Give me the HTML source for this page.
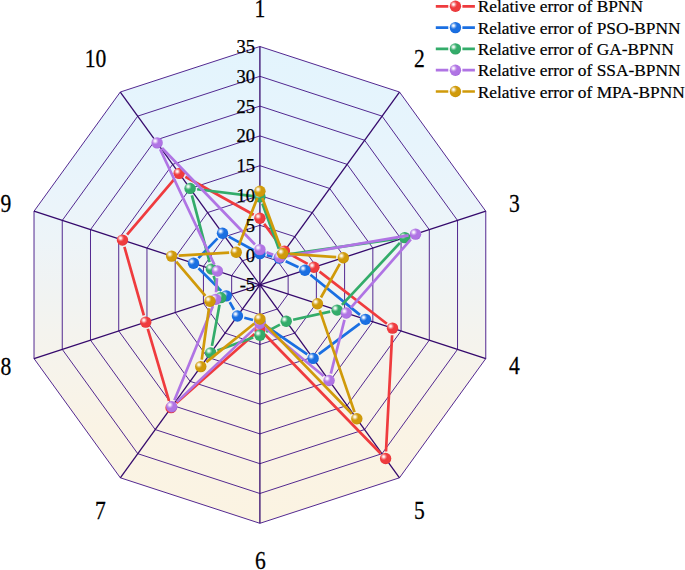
<!DOCTYPE html>
<html><head><meta charset="utf-8"><style>
html,body{margin:0;padding:0;background:#fff;}
body{width:685px;height:570px;overflow:hidden;}
svg{display:block;}
text{font-family:"Liberation Serif",serif;fill:#000;}
</style></head><body>
<svg width="685" height="570" viewBox="0 0 685 570">
<defs>
<linearGradient id="bg" x1="0" y1="46.5" x2="0" y2="523.3" gradientUnits="userSpaceOnUse">
<stop offset="0" stop-color="#e3f4fd"/><stop offset="0.2" stop-color="#e7f4fc"/><stop offset="0.3" stop-color="#eaf4fb"/><stop offset="0.4" stop-color="#edf4f8"/><stop offset="0.5" stop-color="#f0f3f3"/><stop offset="0.6" stop-color="#f4f3ee"/><stop offset="0.7" stop-color="#f7f3ea"/><stop offset="0.8" stop-color="#faf3e5"/><stop offset="1" stop-color="#fbf3e2"/>
</linearGradient>
<radialGradient id="hl" cx="0.5" cy="0.5" r="0.5"><stop offset="0" stop-color="#fff" stop-opacity="1"/><stop offset="0.3" stop-color="#fff" stop-opacity="0.8"/><stop offset="0.65" stop-color="#fff" stop-opacity="0.3"/><stop offset="1" stop-color="#fff" stop-opacity="0"/></radialGradient>

<radialGradient id="gBPNN" cx="0.42" cy="0.40" r="0.62"><stop offset="0" stop-color="#ef3b3e"/><stop offset="0.8" stop-color="#ef3b3e"/><stop offset="1" stop-color="#e03034"/></radialGradient>
<radialGradient id="gPSO" cx="0.42" cy="0.40" r="0.62"><stop offset="0" stop-color="#1a6fe2"/><stop offset="0.8" stop-color="#1a6fe2"/><stop offset="1" stop-color="#1563d4"/></radialGradient>
<radialGradient id="gGA" cx="0.42" cy="0.40" r="0.62"><stop offset="0" stop-color="#33ac6a"/><stop offset="0.8" stop-color="#33ac6a"/><stop offset="1" stop-color="#2a9a5c"/></radialGradient>
<radialGradient id="gSSA" cx="0.42" cy="0.40" r="0.62"><stop offset="0" stop-color="#b074e4"/><stop offset="0.8" stop-color="#b074e4"/><stop offset="1" stop-color="#a064d8"/></radialGradient>
<radialGradient id="gMPA" cx="0.42" cy="0.40" r="0.62"><stop offset="0" stop-color="#d09a0a"/><stop offset="0.8" stop-color="#d09a0a"/><stop offset="1" stop-color="#c08c06"/></radialGradient>
</defs>
<polygon points="259.90,46.50 399.50,92.03 485.78,211.23 485.78,358.57 399.50,477.77 259.90,523.30 120.30,477.77 34.02,358.57 34.02,211.23 120.30,92.03" fill="url(#bg)"/>
<polygon points="259.90,255.10 277.35,260.79 288.13,275.69 288.13,294.11 277.35,309.01 259.90,314.70 242.45,309.01 231.67,294.11 231.67,275.69 242.45,260.79" fill="none" stroke="#4a1c8a" stroke-width="0.95"/>
<polygon points="259.90,225.30 294.80,236.68 316.37,266.48 316.37,303.32 294.80,333.12 259.90,344.50 225.00,333.12 203.43,303.32 203.43,266.48 225.00,236.68" fill="none" stroke="#4a1c8a" stroke-width="0.95"/>
<polygon points="259.90,195.50 312.25,212.57 344.60,257.27 344.60,312.53 312.25,357.23 259.90,374.30 207.55,357.23 175.20,312.53 175.20,257.27 207.55,212.57" fill="none" stroke="#4a1c8a" stroke-width="0.95"/>
<polygon points="259.90,165.70 329.70,188.47 372.84,248.07 372.84,321.73 329.70,381.33 259.90,404.10 190.10,381.33 146.96,321.73 146.96,248.07 190.10,188.47" fill="none" stroke="#4a1c8a" stroke-width="0.95"/>
<polygon points="259.90,135.90 347.15,164.36 401.07,238.86 401.07,330.94 347.15,405.44 259.90,433.90 172.65,405.44 118.73,330.94 118.73,238.86 172.65,164.36" fill="none" stroke="#4a1c8a" stroke-width="0.95"/>
<polygon points="259.90,106.10 364.60,140.25 429.31,229.65 429.31,340.15 364.60,429.55 259.90,463.70 155.20,429.55 90.49,340.15 90.49,229.65 155.20,140.25" fill="none" stroke="#4a1c8a" stroke-width="0.95"/>
<polygon points="259.90,76.30 382.05,116.14 457.54,220.44 457.54,349.36 382.05,453.66 259.90,493.50 137.75,453.66 62.26,349.36 62.26,220.44 137.75,116.14" fill="none" stroke="#4a1c8a" stroke-width="0.95"/>
<polygon points="259.90,46.50 399.50,92.03 485.78,211.23 485.78,358.57 399.50,477.77 259.90,523.30 120.30,477.77 34.02,358.57 34.02,211.23 120.30,92.03" fill="none" stroke="#4a1c8a" stroke-width="0.95"/>
<line x1="259.9" y1="284.9" x2="259.90" y2="46.50" stroke="#35096c" stroke-width="1.3"/>
<line x1="259.9" y1="284.9" x2="399.50" y2="92.03" stroke="#35096c" stroke-width="1.3"/>
<line x1="259.9" y1="284.9" x2="485.78" y2="211.23" stroke="#35096c" stroke-width="1.3"/>
<line x1="259.9" y1="284.9" x2="485.78" y2="358.57" stroke="#35096c" stroke-width="1.3"/>
<line x1="259.9" y1="284.9" x2="399.50" y2="477.77" stroke="#35096c" stroke-width="1.3"/>
<line x1="259.9" y1="284.9" x2="259.90" y2="523.30" stroke="#35096c" stroke-width="1.3"/>
<line x1="259.9" y1="284.9" x2="120.30" y2="477.77" stroke="#35096c" stroke-width="1.3"/>
<line x1="259.9" y1="284.9" x2="34.02" y2="358.57" stroke="#35096c" stroke-width="1.3"/>
<line x1="259.9" y1="284.9" x2="34.02" y2="211.23" stroke="#35096c" stroke-width="1.3"/>
<line x1="259.9" y1="284.9" x2="120.30" y2="92.03" stroke="#35096c" stroke-width="1.3"/>
<path d="M264.14,223.90L280.14,245.39M290.60,254.50L307.67,263.87M319.51,271.64L386.87,323.80M392.11,335.23L385.97,451.47M380.64,453.47L264.85,334.49M254.57,334.09L176.36,402.98M169.03,400.86L147.79,328.93M143.84,315.29L124.41,246.91M127.07,234.67L174.57,178.76M185.37,176.80L253.69,214.75" fill="none" stroke="#ef3b3e" stroke-width="2.7"/>
<circle cx="259.90" cy="218.20" r="5.7" fill="url(#gBPNN)"/><circle cx="258.00" cy="216.30" r="3.6" fill="url(#hl)"/>
<circle cx="284.38" cy="251.08" r="5.7" fill="url(#gBPNN)"/><circle cx="282.48" cy="249.18" r="3.6" fill="url(#hl)"/>
<circle cx="313.90" cy="267.29" r="5.7" fill="url(#gBPNN)"/><circle cx="312.00" cy="265.39" r="3.6" fill="url(#hl)"/>
<circle cx="392.49" cy="328.14" r="5.7" fill="url(#gBPNN)"/><circle cx="390.59" cy="326.24" r="3.6" fill="url(#hl)"/>
<circle cx="385.59" cy="458.56" r="5.7" fill="url(#gBPNN)"/><circle cx="383.69" cy="456.66" r="3.6" fill="url(#hl)"/>
<circle cx="259.90" cy="329.40" r="5.7" fill="url(#gBPNN)"/><circle cx="258.00" cy="327.50" r="3.6" fill="url(#hl)"/>
<circle cx="171.04" cy="407.67" r="5.7" fill="url(#gBPNN)"/><circle cx="169.14" cy="405.77" r="3.6" fill="url(#hl)"/>
<circle cx="145.78" cy="322.12" r="5.7" fill="url(#gBPNN)"/><circle cx="143.88" cy="320.22" r="3.6" fill="url(#hl)"/>
<circle cx="122.47" cy="240.08" r="5.7" fill="url(#gBPNN)"/><circle cx="120.57" cy="238.18" r="3.6" fill="url(#hl)"/>
<circle cx="179.16" cy="173.35" r="5.7" fill="url(#gBPNN)"/><circle cx="177.26" cy="171.45" r="3.6" fill="url(#hl)"/>
<path d="M266.81,255.23L272.34,256.53M285.68,261.18L298.48,267.20M310.42,274.69L359.97,314.87M359.79,323.58L318.78,354.14M307.24,354.36L265.75,325.82M253.03,320.01L244.30,317.74M233.99,309.73L229.76,302.07M221.28,290.85L198.52,268.24M198.42,258.13L217.55,238.32M228.72,236.61L253.67,250.20" fill="none" stroke="#1a6fe2" stroke-width="2.7"/>
<circle cx="259.90" cy="253.60" r="5.7" fill="url(#gPSO)"/><circle cx="258.00" cy="251.70" r="3.6" fill="url(#hl)"/>
<circle cx="279.25" cy="258.16" r="5.7" fill="url(#gPSO)"/><circle cx="277.35" cy="256.26" r="3.6" fill="url(#hl)"/>
<circle cx="304.91" cy="270.22" r="5.7" fill="url(#gPSO)"/><circle cx="303.01" cy="268.32" r="3.6" fill="url(#hl)"/>
<circle cx="365.49" cy="319.34" r="5.7" fill="url(#gPSO)"/><circle cx="363.59" cy="317.44" r="3.6" fill="url(#hl)"/>
<circle cx="313.09" cy="358.38" r="5.7" fill="url(#gPSO)"/><circle cx="311.19" cy="356.48" r="3.6" fill="url(#hl)"/>
<circle cx="259.90" cy="321.80" r="5.7" fill="url(#gPSO)"/><circle cx="258.00" cy="319.90" r="3.6" fill="url(#hl)"/>
<circle cx="237.43" cy="315.95" r="5.7" fill="url(#gPSO)"/><circle cx="235.53" cy="314.05" r="3.6" fill="url(#hl)"/>
<circle cx="226.32" cy="295.85" r="5.7" fill="url(#gPSO)"/><circle cx="224.42" cy="293.95" r="3.6" fill="url(#hl)"/>
<circle cx="193.49" cy="263.24" r="5.7" fill="url(#gPSO)"/><circle cx="191.59" cy="261.34" r="3.6" fill="url(#hl)"/>
<circle cx="222.49" cy="233.21" r="5.7" fill="url(#gPSO)"/><circle cx="220.59" cy="231.31" r="3.6" fill="url(#hl)"/>
<path d="M262.34,203.57L278.83,248.71M288.30,254.37L397.75,238.66M399.93,242.84L341.95,304.89M330.17,311.60L293.14,319.73M279.94,324.57L266.17,331.87M253.22,337.60L217.39,350.46M211.98,345.88L219.52,304.64M218.57,290.91L213.62,275.83M209.59,262.22L191.88,195.29M197.12,189.28L252.85,196.04" fill="none" stroke="#33ac6a" stroke-width="2.7"/>
<circle cx="259.90" cy="196.90" r="5.7" fill="url(#gGA)"/><circle cx="258.00" cy="195.00" r="3.6" fill="url(#hl)"/>
<circle cx="281.27" cy="255.38" r="5.7" fill="url(#gGA)"/><circle cx="279.37" cy="253.48" r="3.6" fill="url(#hl)"/>
<circle cx="404.78" cy="237.65" r="5.7" fill="url(#gGA)"/><circle cx="402.88" cy="235.75" r="3.6" fill="url(#hl)"/>
<circle cx="337.10" cy="310.08" r="5.7" fill="url(#gGA)"/><circle cx="335.20" cy="308.18" r="3.6" fill="url(#hl)"/>
<circle cx="286.21" cy="321.25" r="5.7" fill="url(#gGA)"/><circle cx="284.31" cy="319.35" r="3.6" fill="url(#hl)"/>
<circle cx="259.90" cy="335.20" r="5.7" fill="url(#gGA)"/><circle cx="258.00" cy="333.30" r="3.6" fill="url(#hl)"/>
<circle cx="210.71" cy="352.86" r="5.7" fill="url(#gGA)"/><circle cx="208.81" cy="350.96" r="3.6" fill="url(#hl)"/>
<circle cx="220.79" cy="297.66" r="5.7" fill="url(#gGA)"/><circle cx="218.89" cy="295.76" r="3.6" fill="url(#hl)"/>
<circle cx="211.40" cy="269.08" r="5.7" fill="url(#gGA)"/><circle cx="209.50" cy="267.18" r="3.6" fill="url(#hl)"/>
<circle cx="190.07" cy="188.42" r="5.7" fill="url(#gGA)"/><circle cx="188.17" cy="186.52" r="3.6" fill="url(#hl)"/>
<path d="M266.52,252.17L273.23,254.77M286.85,256.14L408.55,235.33M410.86,239.47L350.93,307.73M344.49,319.94L330.82,373.57M323.58,375.94L265.38,328.01M254.74,328.37L176.88,401.86M174.41,400.16L212.93,305.92M216.06,292.26L216.95,278.12M214.37,264.61L160.12,149.30M162.03,147.99L254.97,244.49" fill="none" stroke="#b074e4" stroke-width="2.7"/>
<circle cx="259.90" cy="249.60" r="5.7" fill="url(#gSSA)"/><circle cx="258.00" cy="247.70" r="3.6" fill="url(#hl)"/>
<circle cx="279.85" cy="257.34" r="5.7" fill="url(#gSSA)"/><circle cx="277.95" cy="255.44" r="3.6" fill="url(#hl)"/>
<circle cx="415.54" cy="234.14" r="5.7" fill="url(#gSSA)"/><circle cx="413.64" cy="232.24" r="3.6" fill="url(#hl)"/>
<circle cx="346.24" cy="313.06" r="5.7" fill="url(#gSSA)"/><circle cx="344.34" cy="311.16" r="3.6" fill="url(#hl)"/>
<circle cx="329.06" cy="380.45" r="5.7" fill="url(#gSSA)"/><circle cx="327.16" cy="378.55" r="3.6" fill="url(#hl)"/>
<circle cx="259.90" cy="323.50" r="5.7" fill="url(#gSSA)"/><circle cx="258.00" cy="321.60" r="3.6" fill="url(#hl)"/>
<circle cx="171.72" cy="406.73" r="5.7" fill="url(#gSSA)"/><circle cx="169.82" cy="404.83" r="3.6" fill="url(#hl)"/>
<circle cx="215.62" cy="299.34" r="5.7" fill="url(#gSSA)"/><circle cx="213.72" cy="297.44" r="3.6" fill="url(#hl)"/>
<circle cx="217.39" cy="271.04" r="5.7" fill="url(#gSSA)"/><circle cx="215.49" cy="269.14" r="3.6" fill="url(#hl)"/>
<circle cx="157.10" cy="142.87" r="5.7" fill="url(#gSSA)"/><circle cx="155.20" cy="140.97" r="3.6" fill="url(#hl)"/>
<path d="M262.34,197.97L280.22,246.78M289.75,253.94L336.21,257.20M339.82,263.89L320.95,297.49M319.77,310.40L354.52,412.07M351.86,413.70L264.85,324.09M254.37,323.45L206.30,362.15M201.76,359.57L209.00,308.21M205.39,295.77L176.23,261.52M178.72,255.68L229.15,252.63M238.81,245.58L257.33,197.92" fill="none" stroke="#d09a0a" stroke-width="2.7"/>
<circle cx="259.90" cy="191.30" r="5.7" fill="url(#gMPA)"/><circle cx="258.00" cy="189.40" r="3.6" fill="url(#hl)"/>
<circle cx="282.67" cy="253.45" r="5.7" fill="url(#gMPA)"/><circle cx="280.77" cy="251.55" r="3.6" fill="url(#hl)"/>
<circle cx="343.30" cy="257.70" r="5.7" fill="url(#gMPA)"/><circle cx="341.40" cy="255.80" r="3.6" fill="url(#hl)"/>
<circle cx="317.47" cy="303.68" r="5.7" fill="url(#gMPA)"/><circle cx="315.57" cy="301.78" r="3.6" fill="url(#hl)"/>
<circle cx="356.81" cy="418.79" r="5.7" fill="url(#gMPA)"/><circle cx="354.91" cy="416.89" r="3.6" fill="url(#hl)"/>
<circle cx="259.90" cy="319.00" r="5.7" fill="url(#gMPA)"/><circle cx="258.00" cy="317.10" r="3.6" fill="url(#hl)"/>
<circle cx="200.76" cy="366.60" r="5.7" fill="url(#gMPA)"/><circle cx="198.86" cy="364.70" r="3.6" fill="url(#hl)"/>
<circle cx="209.99" cy="301.18" r="5.7" fill="url(#gMPA)"/><circle cx="208.09" cy="299.28" r="3.6" fill="url(#hl)"/>
<circle cx="171.63" cy="256.11" r="5.7" fill="url(#gMPA)"/><circle cx="169.73" cy="254.21" r="3.6" fill="url(#hl)"/>
<circle cx="236.23" cy="252.20" r="5.7" fill="url(#gMPA)"/><circle cx="234.33" cy="250.30" r="3.6" fill="url(#hl)"/>
<text x="255.1" y="291.4" font-size="18.5" text-anchor="end" stroke="#000" stroke-width="0.25">-5</text>
<text x="255.1" y="261.6" font-size="18.5" text-anchor="end" stroke="#000" stroke-width="0.25">0</text>
<text x="255.1" y="231.8" font-size="18.5" text-anchor="end" stroke="#000" stroke-width="0.25">5</text>
<text x="255.1" y="202.0" font-size="18.5" text-anchor="end" stroke="#000" stroke-width="0.25">10</text>
<text x="255.1" y="172.2" font-size="18.5" text-anchor="end" stroke="#000" stroke-width="0.25">15</text>
<text x="255.1" y="142.4" font-size="18.5" text-anchor="end" stroke="#000" stroke-width="0.25">20</text>
<text x="255.1" y="112.6" font-size="18.5" text-anchor="end" stroke="#000" stroke-width="0.25">25</text>
<text x="255.1" y="82.8" font-size="18.5" text-anchor="end" stroke="#000" stroke-width="0.25">30</text>
<text x="255.1" y="53.0" font-size="18.5" text-anchor="end" stroke="#000" stroke-width="0.25">35</text>
<text transform="translate(260,17.3) scale(0.9,1.06)" font-size="24" text-anchor="middle" stroke="#000" stroke-width="0.25">1</text>
<text transform="translate(419.3,67.3) scale(0.9,1.06)" font-size="24" text-anchor="middle" stroke="#000" stroke-width="0.25">2</text>
<text transform="translate(514.3,212.1) scale(0.9,1.06)" font-size="24" text-anchor="middle" stroke="#000" stroke-width="0.25">3</text>
<text transform="translate(514.3,374.3) scale(0.9,1.06)" font-size="24" text-anchor="middle" stroke="#000" stroke-width="0.25">4</text>
<text transform="translate(419.3,519.1) scale(0.9,1.06)" font-size="24" text-anchor="middle" stroke="#000" stroke-width="0.25">5</text>
<text transform="translate(260.3,569.1) scale(0.9,1.06)" font-size="24" text-anchor="middle" stroke="#000" stroke-width="0.25">6</text>
<text transform="translate(100.5,519.1) scale(0.9,1.06)" font-size="24" text-anchor="middle" stroke="#000" stroke-width="0.25">7</text>
<text transform="translate(5.8,374.6) scale(0.9,1.06)" font-size="24" text-anchor="middle" stroke="#000" stroke-width="0.25">8</text>
<text transform="translate(5.8,212.1) scale(0.9,1.06)" font-size="24" text-anchor="middle" stroke="#000" stroke-width="0.25">9</text>
<text transform="translate(95.5,67.4) scale(0.9,1.06)" font-size="24" text-anchor="middle" stroke="#000" stroke-width="0.25">10</text>
<path d="M435.8,6.3H448.3M462.4,6.3H474.9" stroke="#ef3b3e" stroke-width="2.7"/>
<circle cx="455.40" cy="6.30" r="5.7" fill="url(#gBPNN)"/><circle cx="453.50" cy="4.40" r="3.6" fill="url(#hl)"/>
<text transform="translate(477.7,12.3) scale(1,1.0)" font-size="17.35" stroke="#000" stroke-width="0.2">Relative error of BPNN</text>
<path d="M435.8,27.6H448.3M462.4,27.6H474.9" stroke="#1a6fe2" stroke-width="2.7"/>
<circle cx="455.40" cy="27.60" r="5.7" fill="url(#gPSO)"/><circle cx="453.50" cy="25.70" r="3.6" fill="url(#hl)"/>
<text transform="translate(477.7,33.6) scale(1,1.0)" font-size="17.35" stroke="#000" stroke-width="0.2">Relative error of PSO-BPNN</text>
<path d="M435.8,48.9H448.3M462.4,48.9H474.9" stroke="#33ac6a" stroke-width="2.7"/>
<circle cx="455.40" cy="48.90" r="5.7" fill="url(#gGA)"/><circle cx="453.50" cy="47.00" r="3.6" fill="url(#hl)"/>
<text transform="translate(477.7,54.9) scale(1,1.0)" font-size="17.35" stroke="#000" stroke-width="0.2">Relative error of GA-BPNN</text>
<path d="M435.8,70.2H448.3M462.4,70.2H474.9" stroke="#b074e4" stroke-width="2.7"/>
<circle cx="455.40" cy="70.20" r="5.7" fill="url(#gSSA)"/><circle cx="453.50" cy="68.30" r="3.6" fill="url(#hl)"/>
<text transform="translate(477.7,76.2) scale(1,1.0)" font-size="17.35" stroke="#000" stroke-width="0.2">Relative error of SSA-BPNN</text>
<path d="M435.8,91.5H448.3M462.4,91.5H474.9" stroke="#d09a0a" stroke-width="2.7"/>
<circle cx="455.40" cy="91.50" r="5.7" fill="url(#gMPA)"/><circle cx="453.50" cy="89.60" r="3.6" fill="url(#hl)"/>
<text transform="translate(477.7,97.5) scale(1,1.0)" font-size="17.35" stroke="#000" stroke-width="0.2">Relative error of MPA-BPNN</text>
</svg></body></html>
